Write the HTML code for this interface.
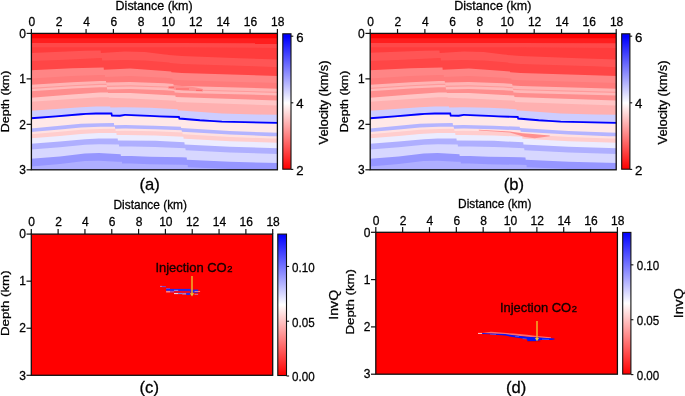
<!DOCTYPE html><html><head><meta charset="utf-8"><style>html,body{margin:0;padding:0;background:#fff;width:685px;height:396px;overflow:hidden}svg{display:block;will-change:transform}text{stroke:#000;stroke-width:.28px}text.inj{stroke:#140000;stroke-width:.35px}</style></head><body>
<svg width="685" height="396" viewBox="0 0 685 396" font-family="'Liberation Sans', sans-serif" fill="#000">
<defs>
<clipPath id="ca"><rect x="31.4" y="33.4" width="245.99999999999997" height="136.4"/></clipPath>
<linearGradient id="gv" x1="0" y1="0" x2="0" y2="1"><stop offset="0" stop-color="#0000ff"/><stop offset="0.021" stop-color="#0000ff"/><stop offset="0.511" stop-color="#ffffff"/><stop offset="1" stop-color="#ff0000"/></linearGradient>
<linearGradient id="gq" x1="0" y1="0" x2="0" y2="1"><stop offset="0" stop-color="#0000ff"/><stop offset="0.5" stop-color="#ffffff"/><stop offset="1" stop-color="#ff0000"/></linearGradient>
<g id="modelA"><rect x="30.4" y="32.4" width="247.99999999999997" height="138.4" fill="#ff0000"/>
<path d="M30.4,38.3 L278.4,38.32 L278.4,171.8 L30.4,171.8 Z" fill="#ff1e1e"/>
<path d="M30.4,42.9 L179.9,42.9 L278.4,43.26 L278.4,171.8 L30.4,171.8 Z" fill="#ff4848"/>
<path d="M30.4,47.3 L179.9,47.3 L278.4,47.99 L278.4,171.8 L30.4,171.8 Z" fill="#ff3c3c"/>
<path d="M30.4,52.9 L84.9,50.8 L100.65,50.51 L100.9,52.9 L124.9,51.51 L144.9,51.9 L164.9,54.59 L168.15,54.83 L168.4,55.05 L172.15,55.21 L181.9,55.89 L239.9,58.3 L278.4,59.5 L278.4,171.8 L30.4,171.8 Z" fill="#ff5555"/>
<path d="M30.4,61 L65.9,59.8 L99.9,58.11 L101.9,58.1 L102.15,60.5 L124.9,59.9 L144.9,60.5 L169.4,62.61 L169.65,63 L181.9,63.89 L254.9,66.3 L278.4,67.3 L278.4,171.8 L30.4,171.8 Z" fill="#ff4646"/>
<path d="M30.4,70.4 L71.9,68.21 L103.65,67.5 L103.9,69.76 L130.15,68.61 L164.9,70.89 L171.15,71.61 L171.4,72.31 L181.9,73.09 L278.4,75.9 L278.4,171.8 L30.4,171.8 Z" fill="#ff8585"/>
<path d="M30.4,78.5 L71.9,76.08 L99.9,75.02 L104.9,74.99 L105.15,76.91 L130.15,76.09 L165.15,77.79 L172.4,78.51 L172.65,79.66 L181.9,80.24 L278.4,83.05 L278.4,171.8 L30.4,171.8 Z" fill="#ff7b7b"/>
<path d="M30.4,84.9 L72.15,82.29 L99.9,80.91 L105.9,80.9 L106.15,82.6 L129.9,82 L164.9,83.2 L173.4,83.93 L173.65,85.42 L181.9,85.89 L278.4,88.7 L278.4,171.8 L30.4,171.8 Z" fill="#ffb3b3"/>
<path d="M30.4,87.9 L72.15,85.2 L99.9,83.86 L106.4,83.85 L106.65,85.82 L130.15,85.24 L164.9,86.43 L173.9,87.17 L174.15,88.72 L181.9,89.17 L278.4,91.79 L278.4,171.8 L30.4,171.8 Z" fill="#ff9a9a"/>
<path d="M30.4,89 L72.15,86.27 L99.9,84.94 L106.65,84.94 L106.9,87.01 L130.15,86.42 L164.9,87.61 L174.15,88.37 L174.4,89.93 L181.9,90.37 L278.4,92.93 L278.4,171.8 L30.4,171.8 Z" fill="#ffb8b8"/>
<path d="M30.4,91.4 L72.15,88.59 L99.9,87.3 L106.9,87.3 L107.15,89.6 L130.15,89.01 L165.15,90.21 L174.4,90.95 L174.65,92.55 L181.9,92.99 L278.4,95.4 L278.4,171.8 L30.4,171.8 Z" fill="#ff8e8e"/>
<path d="M30.4,97.8 L71.9,94.51 L99.9,92.51 L107.9,92.43 L108.15,93.1 L130.15,93.11 L164.9,94.89 L175.4,95.52 L175.65,96.96 L181.9,97.29 L269.9,100.2 L278.4,100.4 L278.4,171.8 L30.4,171.8 Z" fill="#ffc5c5"/>
<path d="M30.4,101.9 L71.9,99.01 L99.9,97.21 L108.65,97.13 L108.9,97.8 L130.15,98.41 L176.15,100.69 L176.4,101.94 L182.15,102.3 L269.9,105.2 L278.4,105.4 L278.4,171.8 L30.4,171.8 Z" fill="#ffb0b0"/>
<path d="M30.4,110.8 L81.15,107.19 L95.9,106.6 L110.15,106.6 L110.4,107.6 L125.15,107.2 L149.9,107.8 L177.65,109.13 L177.9,110.56 L180.15,110.61 L221.9,113.59 L255.9,114.5 L278.4,114.8 L278.4,171.8 L30.4,171.8 Z" fill="#cdcdff"/>
<path d="M30.4,119.4 L55.9,117.37 L81.15,115.23 L95.9,114.56 L111.65,114.54 L111.9,116.58 L119.9,116.72 L125.15,115.98 L149.9,116.94 L160.15,117.43 L178.9,118.04 L179.15,119.54 L200.15,121.27 L209.9,121.77 L222.15,122.57 L278.4,123.97 L278.4,171.8 L30.4,171.8 Z" fill="#ffe8e8"/>
<path d="M30.4,128.5 L80.9,123.83 L99.9,123.13 L113.9,123.12 L114.15,125.37 L125.15,124.91 L154.9,125.72 L180.9,126.77 L181.15,128.12 L229.9,131.03 L269.9,132.61 L278.4,132.81 L278.4,171.8 L30.4,171.8 Z" fill="#b4b4ff"/>
<path d="M30.4,132 L59.9,129.39 L81.15,127.41 L99.9,126.66 L114.9,126.63 L115.15,128.81 L125.15,128.5 L154.9,129.18 L181.65,130.34 L181.9,131.84 L229.9,134.62 L269.9,136.15 L278.4,136.36 L278.4,171.8 L30.4,171.8 Z" fill="#ffe1e1"/>
<path d="M30.4,134.2 L59.9,131.67 L81.15,129.69 L99.9,128.91 L115.4,128.84 L115.65,130.99 L125.15,130.77 L154.9,131.36 L182.4,132.6 L182.65,134.23 L229.9,136.91 L269.9,138.4 L278.4,138.61 L278.4,171.8 L30.4,171.8 Z" fill="#ffcdcd"/>
<path d="M30.4,138.3 L59.9,135.92 L80.9,133.97 L84.9,133.68 L99.15,133.1 L116.4,132.97 L116.65,135.08 L125.15,134.99 L155.15,135.44 L183.4,136.81 L183.65,138.66 L184.9,138.74 L229.9,141.18 L269.9,142.57 L278.4,142.79 L278.4,171.8 L30.4,171.8 Z" fill="#ececff"/>
<path d="M30.4,143.7 L59.9,141.51 L85.15,139.19 L98.9,138.6 L117.65,138.4 L117.9,140.5 L155.15,140.81 L184.4,142.37 L184.65,144.48 L229.9,146.79 L278.4,148.3 L278.4,171.8 L30.4,171.8 Z" fill="#afafff"/>
<path d="M30.4,149.5 L59.9,147.23 L85.15,144.65 L98.9,144.14 L118.9,144.4 L119.15,146.42 L131.15,146.48 L154.9,146.9 L185.4,148.14 L185.65,150.34 L229.9,152.52 L278.4,153.91 L278.4,171.8 L30.4,171.8 Z" fill="#d7d7ff"/>
<path d="M30.4,158.9 L59.9,156.51 L84.9,153.51 L98.9,153.1 L120.65,154.19 L120.9,156 L131.15,156.01 L149.9,156.7 L181.9,157.3 L186.65,157.49 L186.9,159.8 L229.9,161.8 L278.4,163 L278.4,171.8 L30.4,171.8 Z" fill="#9696ff"/>
<path d="M30.4,166.5 L59.9,164.11 L84.9,161.11 L98.9,160.7 L117.9,161.69 L121.9,161.79 L122.15,163.55 L131.15,163.56 L149.9,164.25 L181.9,164.85 L187.65,165.05 L187.9,167.25 L229.9,169.07 L278.4,170.32 L278.4,171.8 L30.4,171.8 Z" fill="#afafff"/>
<path d="M30.4,118.3 L55.9,116.31 L80.9,114.21 L85.9,113.91 L95.9,113.5 L111.4,113.5 L111.9,115.51 L119.9,115.7 L124.9,114.92 L125.4,114.92 L149.9,115.9 L159.9,116.4 L178.9,117 L179.4,118.54 L199.9,120.29 L209.9,120.8 L221.9,121.59 L278.4,122.9" fill="none" stroke="#0000ff" stroke-width="1.85"/></g>
</defs>
<g clip-path="url(#ca)"><use href="#modelA"/>
<path d="M168,86.5 C175,85 190,86 203,89 L203,91.5 C190,91 176,90 168,88.5Z" fill="#ff9090"/>
<path d="M169,87.3 L174,87.3 M176,89 L189,89 M196,90.3 L202,90.3" stroke="#ff6060" stroke-width="0.9"/>
</g>
<g transform="translate(338.8,0)"><g clip-path="url(#ca)"><use href="#modelA"/>
<path d="M140,129.8 L171,131.5 L181,133 L194,134 L211,135.5 L211,136.2 L196,138.3 L186,137 L171,132.5 L140,130.6Z" fill="#ff9090"/>
</g></g>
<line x1="31.4" y1="29" x2="31.4" y2="33.4" stroke="#111" stroke-width="1.2"/>
<text x="31.8" y="26.3" text-anchor="middle" font-size="12">0</text>
<line x1="58.73" y1="29" x2="58.73" y2="33.4" stroke="#111" stroke-width="1.2"/>
<text x="59.13" y="26.3" text-anchor="middle" font-size="12">2</text>
<line x1="86.07" y1="29" x2="86.07" y2="33.4" stroke="#111" stroke-width="1.2"/>
<text x="86.47" y="26.3" text-anchor="middle" font-size="12">4</text>
<line x1="113.4" y1="29" x2="113.4" y2="33.4" stroke="#111" stroke-width="1.2"/>
<text x="113.8" y="26.3" text-anchor="middle" font-size="12">6</text>
<line x1="140.73" y1="29" x2="140.73" y2="33.4" stroke="#111" stroke-width="1.2"/>
<text x="141.13" y="26.3" text-anchor="middle" font-size="12">8</text>
<line x1="168.07" y1="29" x2="168.07" y2="33.4" stroke="#111" stroke-width="1.2"/>
<text x="168.47" y="26.3" text-anchor="middle" font-size="12">10</text>
<line x1="195.4" y1="29" x2="195.4" y2="33.4" stroke="#111" stroke-width="1.2"/>
<text x="195.8" y="26.3" text-anchor="middle" font-size="12">12</text>
<line x1="222.73" y1="29" x2="222.73" y2="33.4" stroke="#111" stroke-width="1.2"/>
<text x="223.13" y="26.3" text-anchor="middle" font-size="12">14</text>
<line x1="250.07" y1="29" x2="250.07" y2="33.4" stroke="#111" stroke-width="1.2"/>
<text x="250.47" y="26.3" text-anchor="middle" font-size="12">16</text>
<line x1="277.4" y1="29" x2="277.4" y2="33.4" stroke="#111" stroke-width="1.2"/>
<text x="277.8" y="26.3" text-anchor="middle" font-size="12">18</text>
<line x1="26.6" y1="33.4" x2="31.4" y2="33.4" stroke="#111" stroke-width="1.2"/>
<text x="26" y="37.6" text-anchor="end" font-size="12">0</text>
<line x1="26.6" y1="78.87" x2="31.4" y2="78.87" stroke="#111" stroke-width="1.2"/>
<text x="26" y="83.07" text-anchor="end" font-size="12">1</text>
<line x1="26.6" y1="124.33" x2="31.4" y2="124.33" stroke="#111" stroke-width="1.2"/>
<text x="26" y="128.53" text-anchor="end" font-size="12">2</text>
<line x1="26.6" y1="169.8" x2="31.4" y2="169.8" stroke="#111" stroke-width="1.2"/>
<text x="26" y="174" text-anchor="end" font-size="12">3</text>
<rect x="31.4" y="33.4" width="246" height="136.4" fill="none" stroke="#111" stroke-width="1.3"/>
<text x="115.6" y="9.6" font-size="12" textLength="77" lengthAdjust="spacingAndGlyphs">Distance (km)</text>
<g transform="translate(338.8,0)"><line x1="31.4" y1="29" x2="31.4" y2="33.4" stroke="#111" stroke-width="1.2"/>
<text x="31.8" y="26.3" text-anchor="middle" font-size="12">0</text>
<line x1="58.73" y1="29" x2="58.73" y2="33.4" stroke="#111" stroke-width="1.2"/>
<text x="59.13" y="26.3" text-anchor="middle" font-size="12">2</text>
<line x1="86.07" y1="29" x2="86.07" y2="33.4" stroke="#111" stroke-width="1.2"/>
<text x="86.47" y="26.3" text-anchor="middle" font-size="12">4</text>
<line x1="113.4" y1="29" x2="113.4" y2="33.4" stroke="#111" stroke-width="1.2"/>
<text x="113.8" y="26.3" text-anchor="middle" font-size="12">6</text>
<line x1="140.73" y1="29" x2="140.73" y2="33.4" stroke="#111" stroke-width="1.2"/>
<text x="141.13" y="26.3" text-anchor="middle" font-size="12">8</text>
<line x1="168.07" y1="29" x2="168.07" y2="33.4" stroke="#111" stroke-width="1.2"/>
<text x="168.47" y="26.3" text-anchor="middle" font-size="12">10</text>
<line x1="195.4" y1="29" x2="195.4" y2="33.4" stroke="#111" stroke-width="1.2"/>
<text x="195.8" y="26.3" text-anchor="middle" font-size="12">12</text>
<line x1="222.73" y1="29" x2="222.73" y2="33.4" stroke="#111" stroke-width="1.2"/>
<text x="223.13" y="26.3" text-anchor="middle" font-size="12">14</text>
<line x1="250.07" y1="29" x2="250.07" y2="33.4" stroke="#111" stroke-width="1.2"/>
<text x="250.47" y="26.3" text-anchor="middle" font-size="12">16</text>
<line x1="277.4" y1="29" x2="277.4" y2="33.4" stroke="#111" stroke-width="1.2"/>
<text x="277.8" y="26.3" text-anchor="middle" font-size="12">18</text>
<line x1="26.6" y1="33.4" x2="31.4" y2="33.4" stroke="#111" stroke-width="1.2"/>
<text x="26" y="37.6" text-anchor="end" font-size="12">0</text>
<line x1="26.6" y1="78.87" x2="31.4" y2="78.87" stroke="#111" stroke-width="1.2"/>
<text x="26" y="83.07" text-anchor="end" font-size="12">1</text>
<line x1="26.6" y1="124.33" x2="31.4" y2="124.33" stroke="#111" stroke-width="1.2"/>
<text x="26" y="128.53" text-anchor="end" font-size="12">2</text>
<line x1="26.6" y1="169.8" x2="31.4" y2="169.8" stroke="#111" stroke-width="1.2"/>
<text x="26" y="174" text-anchor="end" font-size="12">3</text>
<rect x="31.4" y="33.4" width="246" height="136.4" fill="none" stroke="#111" stroke-width="1.3"/>
<text x="115.4" y="9.6" font-size="12" textLength="77.2" lengthAdjust="spacingAndGlyphs">Distance (km)</text></g>
<g transform="translate(0,0)">
<rect x="282.8" y="33.8" width="8.2" height="135.4" fill="url(#gv)" stroke="#111" stroke-width="1.1"/>
<line x1="291" y1="36.2" x2="293.3" y2="36.2" stroke="#111" stroke-width="1.1"/>
<text x="296.2" y="41.7" font-size="13.2">6</text>
<line x1="291" y1="102.8" x2="293.3" y2="102.8" stroke="#111" stroke-width="1.1"/>
<text x="296.2" y="108.3" font-size="13.2">4</text>
<line x1="291" y1="169.4" x2="293.3" y2="169.4" stroke="#111" stroke-width="1.1"/>
<text x="296.2" y="174.9" font-size="13.2">2</text>
<text transform="translate(328.2,102.5) rotate(-90)" text-anchor="middle" font-size="12" textLength="84" lengthAdjust="spacingAndGlyphs">Velocity (km/s)</text>
<text transform="translate(9.1,101.4) rotate(-90)" text-anchor="middle" font-size="11.8" textLength="61.5" lengthAdjust="spacingAndGlyphs">Depth (km)</text>
</g>
<g transform="translate(338.9,0)">
<rect x="282.8" y="33.8" width="8.2" height="135.4" fill="url(#gv)" stroke="#111" stroke-width="1.1"/>
<line x1="291" y1="36.2" x2="293.3" y2="36.2" stroke="#111" stroke-width="1.1"/>
<text x="296.2" y="41.7" font-size="13.2">6</text>
<line x1="291" y1="102.8" x2="293.3" y2="102.8" stroke="#111" stroke-width="1.1"/>
<text x="296.2" y="108.3" font-size="13.2">4</text>
<line x1="291" y1="169.4" x2="293.3" y2="169.4" stroke="#111" stroke-width="1.1"/>
<text x="296.2" y="174.9" font-size="13.2">2</text>
<text transform="translate(328.2,102.5) rotate(-90)" text-anchor="middle" font-size="12" textLength="84" lengthAdjust="spacingAndGlyphs">Velocity (km/s)</text>
<text transform="translate(9.1,101.4) rotate(-90)" text-anchor="middle" font-size="11.8" textLength="61.5" lengthAdjust="spacingAndGlyphs">Depth (km)</text>
</g>
<text x="139.6" y="189.6" font-size="16.6">(a)</text>
<text x="503.8" y="189.6" font-size="16.6">(b)</text>
<rect x="31.3" y="234.1" width="241.4" height="141.2" fill="#ff0000"/>
<rect x="375.8" y="232.3" width="241.6" height="141.9" fill="#ff0000"/>
<g><rect x="160" y="285.9" width="2.2" height="0.9" fill="#c080d8"/><rect x="162" y="286.2" width="3.9" height="0.9" fill="#6050f0"/><rect x="166.1" y="288.1" width="3.9" height="1" fill="#a040b0"/><rect x="166.1" y="288.9" width="24.4" height="2.0" fill="#1e2af2"/><rect x="190.3" y="289.6" width="7.9" height="3.0" fill="#1e2af2"/><rect x="174" y="289.9" width="4.2" height="1.0" fill="#8a8af2"/><rect x="166.1" y="290.9" width="3.9" height="1.6" fill="#ff8080"/><rect x="170" y="290.9" width="4.1" height="1.6" fill="#b040a0"/><rect x="174" y="291.6" width="16.3" height="0.9" fill="#d02060"/><rect x="174" y="293" width="4.1" height="1.1" fill="#f0c8d8"/><rect x="178" y="293" width="4.2" height="1.1" fill="#7080f0"/><rect x="182.2" y="293.2" width="4.1" height="1.3" fill="#9a9af0"/><rect x="186.3" y="293" width="4" height="2" fill="#2030f0"/><rect x="194.5" y="291.2" width="5.6" height="0.8" fill="#ff9090"/><rect x="194.5" y="293.8" width="3.6" height="0.9" fill="#c090c0"/></g>
<path d="M478,332.9 L482,332.9 L491,331.8 L514,333.6 L527,334.8 L537,336 L551,337.2 L551,338.4 L537,337.6 L527,336.8 L514,335.6 L491,333.6 L482,334 L478,333.9Z" fill="#ff6a6a"/>
<rect x="478" y="332.9" width="4" height="1" fill="#ffc0c0"/>
<path d="M482.2,333 L491,333.4 L505,334 L514,335.3 L527,336.8 L539,337.6 L551,338.3 L554.5,338.6 L554.5,339.6 L551,339.9 L541,339.9 L537,340.9 L535,341.3 L527.5,341.3 L527,339.2 L519,338 L514,337.2 L505,335.6 L498,335 L491,334.3 L482.2,334.1Z" fill="#0a14f5"/>
<path d="M490,334.2 L496,334.5 M515,336.3 L519,336.6 M522.6,338.6 L526.6,338.9 M542,339.2 L549,339.4" stroke="#5560f5" stroke-width="0.7"/>
<rect x="527.5" y="341.3" width="13" height="0.8" fill="#d80000"/>
<line x1="192" y1="276" x2="192" y2="293.5" stroke="#f0a828" stroke-width="1.6"/>
<path d="M189.9,293.2 L194.1,293.2 L192,296.5 Z" fill="#e8c838"/>
<line x1="537" y1="321.1" x2="537" y2="338.2" stroke="#f0a828" stroke-width="1.6"/>
<path d="M534.9,337.9 L539.1,337.9 L537,341.2 Z" fill="#e8c838"/>
<text x="155.4" y="271.9" font-size="13.1" fill="#140000" class="inj" textLength="71.2" lengthAdjust="spacingAndGlyphs">Injection CO</text>
<text x="227.2" y="271.9" font-size="9.4" fill="#140000" class="inj">2</text>
<text x="499.9" y="311.9" font-size="13.1" fill="#140000" class="inj" textLength="71.2" lengthAdjust="spacingAndGlyphs">Injection CO</text>
<text x="571.7" y="311.9" font-size="9.4" fill="#140000" class="inj">2</text>
<line x1="31.3" y1="228.9" x2="31.3" y2="234.1" stroke="#111" stroke-width="1.2"/>
<text x="31.7" y="226.3" text-anchor="middle" font-size="12">0</text>
<line x1="58.12" y1="228.9" x2="58.12" y2="234.1" stroke="#111" stroke-width="1.2"/>
<text x="58.52" y="226.3" text-anchor="middle" font-size="12">2</text>
<line x1="84.94" y1="228.9" x2="84.94" y2="234.1" stroke="#111" stroke-width="1.2"/>
<text x="85.34" y="226.3" text-anchor="middle" font-size="12">4</text>
<line x1="111.77" y1="228.9" x2="111.77" y2="234.1" stroke="#111" stroke-width="1.2"/>
<text x="112.17" y="226.3" text-anchor="middle" font-size="12">6</text>
<line x1="138.59" y1="228.9" x2="138.59" y2="234.1" stroke="#111" stroke-width="1.2"/>
<text x="138.99" y="226.3" text-anchor="middle" font-size="12">8</text>
<line x1="165.41" y1="228.9" x2="165.41" y2="234.1" stroke="#111" stroke-width="1.2"/>
<text x="165.81" y="226.3" text-anchor="middle" font-size="12">10</text>
<line x1="192.23" y1="228.9" x2="192.23" y2="234.1" stroke="#111" stroke-width="1.2"/>
<text x="192.63" y="226.3" text-anchor="middle" font-size="12">12</text>
<line x1="219.06" y1="228.9" x2="219.06" y2="234.1" stroke="#111" stroke-width="1.2"/>
<text x="219.46" y="226.3" text-anchor="middle" font-size="12">14</text>
<line x1="245.88" y1="228.9" x2="245.88" y2="234.1" stroke="#111" stroke-width="1.2"/>
<text x="246.28" y="226.3" text-anchor="middle" font-size="12">16</text>
<line x1="272.7" y1="228.9" x2="272.7" y2="234.1" stroke="#111" stroke-width="1.2"/>
<text x="273.1" y="226.3" text-anchor="middle" font-size="12">18</text>
<line x1="26.5" y1="234.1" x2="31.3" y2="234.1" stroke="#111" stroke-width="1.2"/>
<text x="25.9" y="238.3" text-anchor="end" font-size="12">0</text>
<line x1="26.5" y1="281.17" x2="31.3" y2="281.17" stroke="#111" stroke-width="1.2"/>
<text x="25.9" y="285.37" text-anchor="end" font-size="12">1</text>
<line x1="26.5" y1="328.23" x2="31.3" y2="328.23" stroke="#111" stroke-width="1.2"/>
<text x="25.9" y="332.43" text-anchor="end" font-size="12">2</text>
<line x1="26.5" y1="375.3" x2="31.3" y2="375.3" stroke="#111" stroke-width="1.2"/>
<text x="25.9" y="379.5" text-anchor="end" font-size="12">3</text>
<rect x="31.3" y="234.1" width="241.4" height="141.2" fill="none" stroke="#111" stroke-width="1.3"/>
<text x="113.5" y="209.4" font-size="12" textLength="73.5" lengthAdjust="spacingAndGlyphs">Distance (km)</text>
<line x1="375.8" y1="227.1" x2="375.8" y2="232.3" stroke="#111" stroke-width="1.2"/>
<text x="376.2" y="225.1" text-anchor="middle" font-size="12">0</text>
<line x1="402.64" y1="227.1" x2="402.64" y2="232.3" stroke="#111" stroke-width="1.2"/>
<text x="403.04" y="225.1" text-anchor="middle" font-size="12">2</text>
<line x1="429.49" y1="227.1" x2="429.49" y2="232.3" stroke="#111" stroke-width="1.2"/>
<text x="429.89" y="225.1" text-anchor="middle" font-size="12">4</text>
<line x1="456.33" y1="227.1" x2="456.33" y2="232.3" stroke="#111" stroke-width="1.2"/>
<text x="456.73" y="225.1" text-anchor="middle" font-size="12">6</text>
<line x1="483.18" y1="227.1" x2="483.18" y2="232.3" stroke="#111" stroke-width="1.2"/>
<text x="483.58" y="225.1" text-anchor="middle" font-size="12">8</text>
<line x1="510.02" y1="227.1" x2="510.02" y2="232.3" stroke="#111" stroke-width="1.2"/>
<text x="510.42" y="225.1" text-anchor="middle" font-size="12">10</text>
<line x1="536.87" y1="227.1" x2="536.87" y2="232.3" stroke="#111" stroke-width="1.2"/>
<text x="537.27" y="225.1" text-anchor="middle" font-size="12">12</text>
<line x1="563.71" y1="227.1" x2="563.71" y2="232.3" stroke="#111" stroke-width="1.2"/>
<text x="564.11" y="225.1" text-anchor="middle" font-size="12">14</text>
<line x1="590.56" y1="227.1" x2="590.56" y2="232.3" stroke="#111" stroke-width="1.2"/>
<text x="590.96" y="225.1" text-anchor="middle" font-size="12">16</text>
<line x1="617.4" y1="227.1" x2="617.4" y2="232.3" stroke="#111" stroke-width="1.2"/>
<text x="617.8" y="225.1" text-anchor="middle" font-size="12">18</text>
<line x1="371" y1="232.3" x2="375.8" y2="232.3" stroke="#111" stroke-width="1.2"/>
<text x="370.4" y="236.5" text-anchor="end" font-size="12">0</text>
<line x1="371" y1="279.6" x2="375.8" y2="279.6" stroke="#111" stroke-width="1.2"/>
<text x="370.4" y="283.8" text-anchor="end" font-size="12">1</text>
<line x1="371" y1="326.9" x2="375.8" y2="326.9" stroke="#111" stroke-width="1.2"/>
<text x="370.4" y="331.1" text-anchor="end" font-size="12">2</text>
<line x1="371" y1="374.2" x2="375.8" y2="374.2" stroke="#111" stroke-width="1.2"/>
<text x="370.4" y="378.4" text-anchor="end" font-size="12">3</text>
<rect x="375.8" y="232.3" width="241.6" height="141.9" fill="none" stroke="#111" stroke-width="1.3"/>
<text x="458.1" y="208.1" font-size="12" textLength="73.3" lengthAdjust="spacingAndGlyphs">Distance (km)</text>
<text transform="translate(9.3,303.2) rotate(-90)" text-anchor="middle" font-size="11.6" textLength="65.5" lengthAdjust="spacingAndGlyphs">Depth (km)</text>
<text transform="translate(354.2,301.8) rotate(-90)" text-anchor="middle" font-size="11.6" textLength="65.5" lengthAdjust="spacingAndGlyphs">Depth (km)</text>
<rect x="277.8" y="234.1" width="8.7" height="141.4" fill="url(#gq)" stroke="#111" stroke-width="1.1"/>
<line x1="286.6" y1="266.46" x2="289.1" y2="266.46" stroke="#111" stroke-width="1.1"/>
<text x="292.0" y="271.76" font-size="13.2" textLength="22.6" lengthAdjust="spacingAndGlyphs">0.10</text>
<line x1="286.6" y1="321.23" x2="289.1" y2="321.23" stroke="#111" stroke-width="1.1"/>
<text x="292.0" y="326.53" font-size="13.2" textLength="22.6" lengthAdjust="spacingAndGlyphs">0.05</text>
<line x1="286.6" y1="376" x2="289.1" y2="376" stroke="#111" stroke-width="1.1"/>
<text x="292.0" y="381.3" font-size="13.2" textLength="22.6" lengthAdjust="spacingAndGlyphs">0.00</text>
<text transform="translate(337.8,304.8) rotate(-90)" text-anchor="middle" font-size="13.2" textLength="29.8" lengthAdjust="spacingAndGlyphs">InvQ</text>
<rect x="622.7" y="232.4" width="8.2" height="141.7" fill="url(#gq)" stroke="#111" stroke-width="1.1"/>
<line x1="630.9" y1="264.83" x2="633.4" y2="264.83" stroke="#111" stroke-width="1.1"/>
<text x="636.7" y="270.13" font-size="13.2" textLength="22.6" lengthAdjust="spacingAndGlyphs">0.10</text>
<line x1="630.9" y1="319.72" x2="633.4" y2="319.72" stroke="#111" stroke-width="1.1"/>
<text x="636.7" y="325.02" font-size="13.2" textLength="22.6" lengthAdjust="spacingAndGlyphs">0.05</text>
<line x1="630.9" y1="374.6" x2="633.4" y2="374.6" stroke="#111" stroke-width="1.1"/>
<text x="636.7" y="379.9" font-size="13.2" textLength="22.6" lengthAdjust="spacingAndGlyphs">0.00</text>
<text transform="translate(683.4,303.25) rotate(-90)" text-anchor="middle" font-size="13.2" textLength="29.8" lengthAdjust="spacingAndGlyphs">InvQ</text>
<text x="139.6" y="393.0" font-size="16.6">(c)</text>
<text x="506.0" y="392.8" font-size="16.6">(d)</text>
</svg></body></html>
